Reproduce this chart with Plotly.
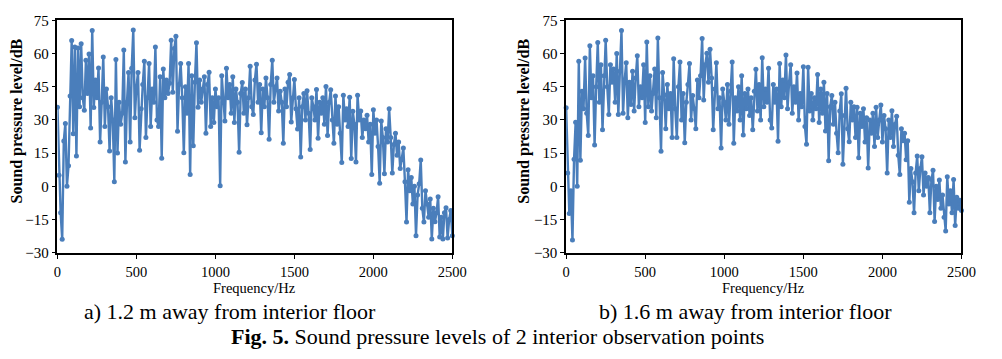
import plotly.graph_objects as go

# Frequency axis (Hz), 10 Hz resolution
freq = list(range(0, 2510, 10))

# a) 1.2 m away from interior floor (dB)
spl_a = [
    35.7, 5, -12, -24, 20.5, 28.4, 0, 9.3, 40.8, 65.9,          # 0-90
    23.7, 63, 13.7, 62.5, 36, 64.5, 40, 34.4, 57, 42,          # 100-190
    59.8, 26.3, 70.4, 35.6, 48, 40, 53.5, 20, 38, 58.5,        # 200-290
    27, 44, 36, 16, 40, 30, 2, 57.3, 15, 38,                   # 300-390
    28, 33, 61.6, 11, 38, 51.5, 20, 53.4, 70.7, 31,            # 400-490
    45, 51.5, 16.3, 35, 46, 56.5, 22, 40, 55.5, 27,            # 500-590
    44, 38, 63, 30, 27, 49.5, 12.7, 53, 40, 48,                # 600-690
    42, 46.6, 66, 42.5, 62.3, 67.8, 24.9, 46, 55.5, 40,        # 700-790
    15.1, 45, 33, 55.5, 5.3, 50, 18.3, 47, 64.9, 35.7,         # 800-890
    48, 38, 44, 49.5, 24, 46, 51.6, 27, 40, 28.8,              # 900-990
    44, 36, 40, 0.2, 50, 38, 29.5, 53.4, 40, 46,               # 1000-1090
    33, 49.5, 28.8, 44, 38, 15.4, 42, 46.9, 33, 44,            # 1100-1190
    27.8, 40, 54.3, 36, 32.4, 48, 55.2, 38, 46, 24.2,          # 1200-1290
    44, 36, 49, 40, 21.3, 46, 57, 38, 45, 49,                  # 1300-1390
    34, 43, 38, 19.4, 44, 36, 47, 50.5, 29.1, 40,              # 1400-1490
    48.3, 35, 25.9, 40, 13.2, 36, 42, 30, 43.2, 33,            # 1500-1590
    16.6, 40, 36, 30, 43.8, 21.7, 38, 33, 40, 28,              # 1600-1690
    45.1, 23, 38, 43.6, 30, 19.4, 40.8, 28, 36, 24,            # 1700-1790
    10.8, 41.2, 30, 35, 27, 40.2, 12.5, 33.9, 28, 11,          # 1800-1890
    41.2, 30, 34, 22, 30, 26, 32.1, 20, 28, 5.3,               # 1900-1990
    34.6, 24, 30, 18, 1.4, 29.5, 22, 5.7, 26, 20,              # 2000-2090
    35, 22, 6, 18.9, 24, 14, 20, 8, 12, 17.3,                  # 2100-2190
    2, -16.2, 7.5, -2, 4, -8, 0, -22.4, -4, 1.1,               # 2200-2290
    11.9, -10, -16.2, -2, -8, -14, -5.8, -23.9, -10, -16,      # 2300-2390
    -12, -4.8, -23, -14, -23.9, -12, -9.7, -23.4, -15, -11,    # 2400-2490
    -22.4,                                                     # 2500
]

# b) 1.6 m away from interior floor (dB)
spl_b = [
    35.5, 6, -12.3, -2, -24.3, 12.2, 29, 0, 56.5, 11.8,        # 0-90
    43, 35, 58, 33, 23, 63.5, 40, 50, 18.7, 45,                # 100-190
    65, 38, 55, 25.5, 50, 66, 45, 32.4, 55, 47,                # 200-290
    53, 38, 60, 32.4, 52, 70.4, 33, 48, 55.8, 31,              # 300-390
    47, 37, 52, 34, 49, 59, 36, 45, 40, 55,                    # 400-490
    28.8, 65.2, 36, 50, 34, 42, 53, 31, 67, 40,                # 500-590
    15.8, 51.5, 41.4, 26, 46, 35, 42, 22, 57.7, 35,            # 600-690
    22, 45, 56.2, 30, 42, 19.7, 38, 46, 55.5, 30,              # 700-790
    41, 35, 26, 48, 40, 50, 66.8, 39, 55, 60.1,                # 800-890
    47, 62, 49, 25.6, 44, 55.8, 35, 40, 17.3, 44,              # 900-990
    38, 30, 46, 28, 43, 56.2, 19.4, 40, 34, 45,                # 1000-1090
    30, 50, 23.2, 42, 35, 44, 32, 40, 25.5, 43,                # 1100-1190
    52.9, 34, 46, 30, 58.1, 36, 44, 38, 53.4, 30,              # 1200-1290
    26.3, 46, 38, 44, 20.4, 55.5, 36, 48, 40, 59.4,            # 1300-1390
    35, 47, 55, 33, 45, 38, 51.2, 30, 42, 36,                  # 1400-1490
    54, 27, 19, 53.8, 34, 42, 30, 40, 35, 50.5,                # 1500-1590
    28.8, 44, 33, 47, 25, 42, 11.5, 36, 41, 28,                # 1600-1690
    38, 24, 15.1, 34, 41.8, 10, 32, 44.3, 26, 20.1,            # 1700-1790
    38, 30, 36, 22, 35.7, 12.9, 33, 27, 35, 20,                # 1800-1890
    31, 8.3, 30, 24, 33, 18, 35.7, 22, 30, 36.8,               # 1900-1990
    20, 32, 26, 6, 30, 22, 34.1, 18, 28, 31.7,                 # 2000-2090
    14, 5.3, 26, 20.6, 24, 12, 20.6, -7.2, 8, 2,               # 2100-2190
    -12, 6, 13.7, -2, 8, 13.3, -4, 6, 0, 4,                    # 2200-2290
    -12, 3, 7.2, -15.9, 0, -6, 2.8, -10, -4, -14,              # 2300-2390
    -20.2, 4.3, -8, -2, -12, 3, -17.8, -5, -10, -6.3,          # 2400-2490
    -11,                                                       # 2500
]

x_ticks = [0, 500, 1000, 1500, 2000, 2500]
y_ticks = [-30, -15, 0, 15, 30, 45, 60, 75]
y_title = "Sound pressure level/dB"
x_title = "Frequency/Hz"
caption_a = "a) 1.2 m away from interior floor"
caption_b = "b) 1.6 m away from interior floor"
fig_caption = "<b>Fig. 5.</b> Sound pressure levels of 2 interior observation points"

W, H = 1002, 359
FONT = "Liberation Serif"
BLUE = "#4A7EBB"

def px_x(p):
    return p / W

def px_y(p):
    return 1 - p / H

fig = go.Figure()
for xa, ya, vals in (("x", "y", spl_a), ("x2", "y2", spl_b)):
    fig.add_trace(go.Scatter(
        x=freq, y=vals, xaxis=xa, yaxis=ya, mode="lines+markers",
        line=dict(color=BLUE, width=2.4),
        marker=dict(size=5, color=BLUE),
        cliponaxis=False, showlegend=False, hoverinfo="x+y",
    ))

ydom = [px_y(256), px_y(13)]
xdom1 = [px_x(54.5), px_x(457)]
xdom2 = [px_x(573), px_x(976)]

def xaxis(dom, anchor):
    return dict(domain=dom, anchor=anchor, range=[0, 2500], tickvals=x_ticks,
                ticks="outside", ticklen=5, tickwidth=1, tickcolor="black",
                showline=True, linecolor="black", linewidth=1.5, mirror=True,
                showgrid=False, zeroline=False,
                tickfont=dict(family=FONT, size=14.5, color="black"))

def yaxis(anchor):
    return dict(domain=ydom, anchor=anchor, range=[-30, 75], tickvals=y_ticks,
                ticks="outside", ticklen=4, tickwidth=1, tickcolor="black",
                showline=True, linecolor="black", linewidth=1.5, mirror=True,
                showgrid=False, zeroline=False,
                tickfont=dict(family=FONT, size=15, color="black"))

annotations = []
for xc in (13, 530):
    annotations.append(dict(text="<b>" + y_title + "</b>", textangle=-90,
                            x=px_x(xc), y=px_y(118), xref="paper", yref="paper",
                            xanchor="center", yanchor="middle", showarrow=False,
                            font=dict(family=FONT, size=16, color="black")))
for xc in ((54.5 + 457) / 2, (573 + 976) / 2):
    annotations.append(dict(text=x_title, x=px_x(xc), y=px_y(293),
                            xref="paper", yref="paper", xanchor="center",
                            yanchor="middle", showarrow=False,
                            font=dict(family=FONT, size=14.5, color="black")))
annotations.append(dict(text=caption_a, x=px_x(230), y=px_y(318), xref="paper",
                        yref="paper", xanchor="center", yanchor="middle",
                        showarrow=False, font=dict(family=FONT, size=22, color="black")))
annotations.append(dict(text=caption_b, x=px_x(756), y=px_y(318), xref="paper",
                        yref="paper", xanchor="center", yanchor="middle",
                        showarrow=False, font=dict(family=FONT, size=22, color="black")))
annotations.append(dict(text=fig_caption, x=px_x(503), y=px_y(344), xref="paper",
                        yref="paper", xanchor="center", yanchor="middle",
                        showarrow=False, font=dict(family=FONT, size=22, color="black")))

fig.update_layout(
    width=W, height=H, margin=dict(l=0, r=0, t=0, b=0),
    paper_bgcolor="white", plot_bgcolor="white",
    xaxis=xaxis(xdom1, "y"), yaxis=yaxis("x"),
    xaxis2=xaxis(xdom2, "y2"), yaxis2=yaxis("x2"),
    annotations=annotations, showlegend=False,
)

assert len(spl_a) == len(freq) and len(spl_b) == len(freq)
fig.write_html("out.html")
